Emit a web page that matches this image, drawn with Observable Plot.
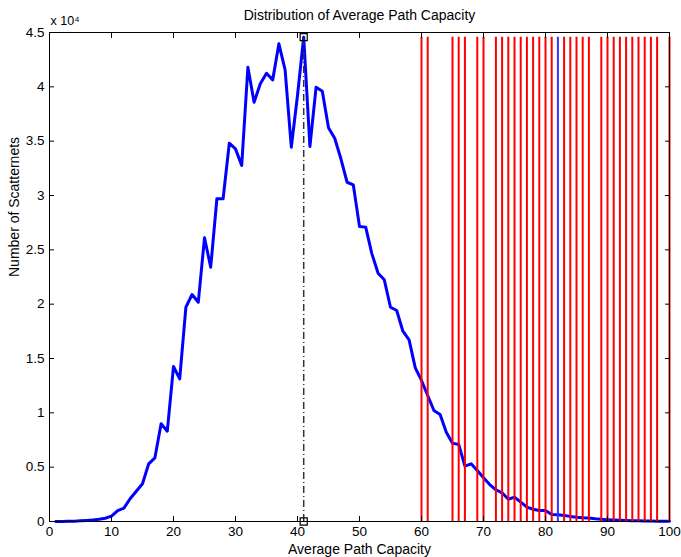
<!DOCTYPE html>
<html>
<head>
<meta charset="utf-8">
<script src="https://cdn.jsdelivr.net/npm/d3@7"></script>
<script src="https://cdn.jsdelivr.net/npm/@observablehq/plot@0.6"></script>
<style>
  html, body { margin: 0; padding: 0; background: #fff; }
  #chart svg { display: block; }
</style>
</head>
<body>
<div id="chart"></div>
<script>
// Average path capacity bins
const capacity = [1,2,3,4,5,6,7,8,9,10,11,12,13,14,15,16,17,18,19,20,
  21,22,23,24,25,26,27,28,29,30,31,32,33,34,35,36,37,38,39,40,
  41,42,43,44,45,46,47,48,49,50,51,52,53,54,55,56,57,58,59,60,
  61,62,63,64,65,66,67,68,69,70,71,72,73,74,75,76,77,78,79,80,
  81,82,83,84,85,86,87,88,89,90,91,92,93,94,95,96,97,98,99,100];
// Number of scatternets per bin
const scatternets = [5,10,20,30,60,100,150,200,300,490,
  1010,1230,2090,2790,3470,5310,5860,8990,8310,14260,
  13130,19720,20890,20180,26110,23400,29700,29700,34810,34290,
  32760,41800,38580,40280,41250,40640,43960,41560,34440,39200,
  44570,34510,39970,39600,36230,35270,33380,31220,30980,27150,
  27090,24630,22850,22240,19720,19420,17510,16720,14140,12980,
  11590,10210,9850,8220,7210,7090,5090,5310,4690,4020,
  3400,2920,2640,2050,2240,1780,1320,1130,1010,1010,
  640,620,560,470,400,350,320,250,200,170,
  140,110,90,70,60,50,40,30,20,15];
// Red marker lines
const redLines = [60,61,65,66,67,69,70,72,73,74,75,76,77,78,79,80,81,
  83,84,85,86,87,89,90,91,92,93,94,95,96,97,98,100];
// Blue marker line
const blueLines = [82];
// Peak (mode) line
const peakX = [41];
const peakY = 44570;
// Axis ticks
const xTicks = [0,10,20,30,40,50,60,70,80,90,100];
const yTicks = [0,5000,10000,15000,20000,25000,30000,35000,40000,45000];
const yTickLabels = ["0","0.5","1","1.5","2","2.5","3","3.5","4","4.5"];

const title = "Distribution of Average Path Capacity";
const xLabel = "Average Path Capacity";
const yLabel = "Number of Scatternets";
const exponentLabel = "x 10\u2074";

const data = capacity.map((c, i) => ({capacity: c, count: scatternets[i]}));
const peakEnds = [{x: peakX[0], y: 0}, {x: peakX[0], y: peakY}];

const font = "'Liberation Sans', Arial, Helvetica, sans-serif";

const chart = Plot.plot({
  width: 681,
  height: 557,
  marginLeft: 49,
  marginRight: 12,
  marginTop: 32,
  marginBottom: 36,
  style: {fontFamily: font, fontSize: "12px", color: "#000", background: "#fff"},
  x: {domain: [0, 100]},
  y: {domain: [0, 45000]},
  marks: [
    // curve
    Plot.line(data, {x: "capacity", y: "count", stroke: "#0000ff", strokeWidth: 3, strokeLinejoin: "round"}),
    // red marker lines
    Plot.ruleX(redLines, {x: d => d, y1: 0, y2: peakY, stroke: "#ff0000", strokeWidth: 2}),
    Plot.ruleX(blueLines, {x: d => d, y1: 0, y2: peakY, stroke: "#3333ff", strokeWidth: 2}),
    // peak line dash-dot
    Plot.ruleX(peakX, {x: d => d, y1: 0, y2: peakY, stroke: "#333", strokeWidth: 1.5, strokeDasharray: "7,3,1,3"}),
    Plot.dot(peakEnds, {x: "x", y: "y", symbol: "square", r: 4, stroke: "#000", fill: "none", strokeWidth: 1.2}),
    // frame
    Plot.frame({stroke: "#000", strokeWidth: 1}),
    // inward ticks on four sides
    Plot.axisX({anchor: "bottom", ticks: xTicks, tickSize: -5, tickFormat: () => "", label: null}),
    Plot.axisX({anchor: "top", ticks: xTicks, tickSize: -5, tickFormat: () => "", label: null}),
    Plot.axisY({anchor: "left", ticks: yTicks, tickSize: -5, tickFormat: () => "", label: null}),
    Plot.axisY({anchor: "right", ticks: yTicks, tickSize: -5, tickFormat: () => "", label: null}),
    // tick labels
    Plot.axisX({anchor: "bottom", ticks: xTicks, tickSize: 0, tickPadding: 5, fontSize: 13.5, label: null}),
    Plot.axisY({anchor: "left", ticks: yTicks, tickSize: 0, tickPadding: 5, fontSize: 13.5, label: null,
      tickFormat: d => yTickLabels[yTicks.indexOf(d)]}),
    // titles
    Plot.text([title], {frameAnchor: "top", dy: -17, fontSize: 14, lineAnchor: "middle"}),
    Plot.text([exponentLabel], {frameAnchor: "top-left", textAnchor: "start", dx: 1, dy: -12, fontSize: 12.5, lineAnchor: "middle"}),
    Plot.text([xLabel], {frameAnchor: "bottom", dy: 28, fontSize: 14, lineAnchor: "middle"}),
    Plot.text([yLabel], {frameAnchor: "left", dx: -35, rotate: -90, fontSize: 14, lineAnchor: "middle"})
  ]
});
document.getElementById("chart").appendChild(chart);
</script>
</body>
</html>
